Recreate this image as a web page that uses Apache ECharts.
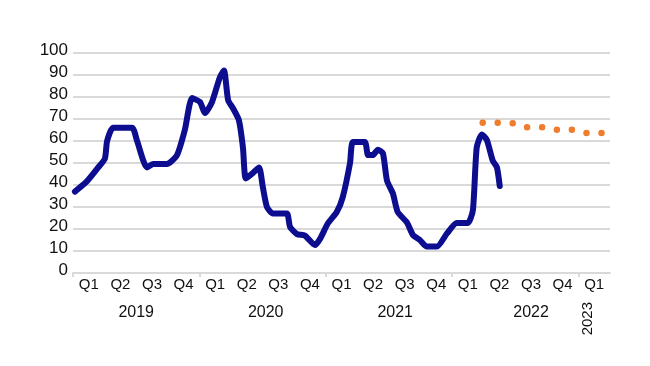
<!DOCTYPE html>
<html><head><meta charset="utf-8">
<script src="https://cdn.jsdelivr.net/npm/echarts@6/dist/echarts.min.js"></script>
<style>html,body{margin:0;padding:0;background:#fff}#c{width:650px;height:366px}</style>
</head><body><div id="c"></div>
<script>
// Category (quarter) labels and their positions on the quarter scale
const quarterLabels = ['Q1','Q2','Q3','Q4','Q1','Q2','Q3','Q4','Q1','Q2','Q3','Q4','Q1','Q2','Q3','Q4','Q1'];
const quarterPos = [0.5,1.5,2.5,3.5,4.5,5.5,6.5,7.5,8.5,9.5,10.5,11.5,12.5,13.5,14.5,15.5,16.5];
const yearLabels = ['2019','2020','2021','2022'];
const yearPos = [2, 6.1, 10.2, 14.5];
const lastYearLabel = ['2023'];
const lastYearPos = [16.3];
const yearBoundaries = [0, 4, 8, 12, 16];

// Actual series (x in quarters since Q1 2019)
const actualQ = [0.06,0.43,0.80,1.01,1.08,1.27,1.87,2.03,2.34,2.53,2.97,3.29,3.54,3.77,4.02,4.18,4.40,4.65,4.78,4.91,5.06,5.25,5.38,5.47,5.70,5.89,6.01,6.14,6.33,6.77,6.87,7.09,7.34,7.66,7.82,8.07,8.35,8.54,8.77,8.86,9.24,9.34,9.49,9.65,9.81,9.94,10.13,10.28,10.57,10.76,10.98,11.20,11.52,11.84,12.15,12.50,12.66,12.78,12.94,13.10,13.29,13.42,13.51];
const actualVal = [37,41.5,48,52,60,66,66,60,48,49.5,49.5,53.5,65,79.5,77.7,72.7,77.7,89,92,78.6,75,69.5,57,43,45.5,48,39,30,27,27,21,17.7,17,12.7,15.5,22.6,27.7,34.5,50,59.5,59.5,53.6,53.6,56,54.5,42,36,27.7,23,17.3,15,12,12,18,22.7,22.7,28.6,57,63,60.5,51,48,39.5];

// Forecast series
const forecastQ = [12.97,13.48,13.98,14.38,14.88,15.33,15.83,16.27,16.80];
const forecastVal = [68.3,68.3,68,66.2,66.2,65.1,65.1,63.6,63.6];

const font = "'Liberation Sans', Arial, sans-serif";
const grey = '#d9d9d9';
const txt = '#111';

function pick(labels, positions) {
  return function (v) {
    const i = positions.findIndex(p => Math.abs(p - v) < 1e-6);
    return i >= 0 ? labels[i] : '';
  };
}

const chart = echarts.init(document.getElementById('c'), null, {renderer: 'canvas'});
const baseX = {type: 'value', min: 0, max: 17, gridIndex: 0, splitLine: {show: false}};
chart.setOption({
  animation: false,
  backgroundColor: '#fff',
  grid: {left: 73, right: 40, top: 53, bottom: 93, containLabel: false},
  xAxis: [
    Object.assign({}, baseX, {
      position: 'bottom',
      axisLine: {show: true, lineStyle: {color: grey, width: 2}},
      axisTick: {show: true, customValues: yearBoundaries, length: 4, lineStyle: {color: grey, width: 2}},
      axisLabel: {customValues: quarterPos, formatter: pick(quarterLabels, quarterPos), margin: 4,
        color: txt, fontSize: 15, fontFamily: font}
    }),
    Object.assign({}, baseX, {
      position: 'bottom',
      axisLine: {show: false}, axisTick: {show: false},
      axisLabel: {customValues: yearPos, formatter: pick(yearLabels, yearPos), margin: 32,
        color: txt, fontSize: 16, fontFamily: font}
    }),
    Object.assign({}, baseX, {
      position: 'bottom',
      axisLine: {show: false}, axisTick: {show: false},
      axisLabel: {customValues: lastYearPos, formatter: pick(lastYearLabel, lastYearPos), margin: 29, rotate: 90,
        color: txt, fontSize: 15, fontFamily: font}
    })
  ],
  yAxis: {
    type: 'value', min: 0, max: 100, interval: 10,
    axisLine: {show: false}, axisTick: {show: false},
    splitLine: {show: true, lineStyle: {color: grey, width: 2}},
    axisLabel: {margin: 5, color: txt, fontSize: 17, fontFamily: font, verticalAlign: 'bottom',
      lineHeight: 6, showMinLabel: true, showMaxLabel: true, hideOverlap: false}
  },
  series: [
    {
      type: 'line', xAxisIndex: 0,
      data: actualQ.map((q, i) => [q, actualVal[i]]),
      showSymbol: false, smooth: 0.2,
      lineStyle: {color: '#0d0d8f', width: 6, cap: 'round', join: 'round'}
    },
    {
      type: 'line', xAxisIndex: 0,
      data: forecastQ.map((q, i) => [q, forecastVal[i]]),
      showSymbol: false,
      lineStyle: {color: '#ee7d2e', width: 6.5, type: [0, 15], cap: 'round', join: 'round'}
    }
  ]
});
</script>
</body></html>
